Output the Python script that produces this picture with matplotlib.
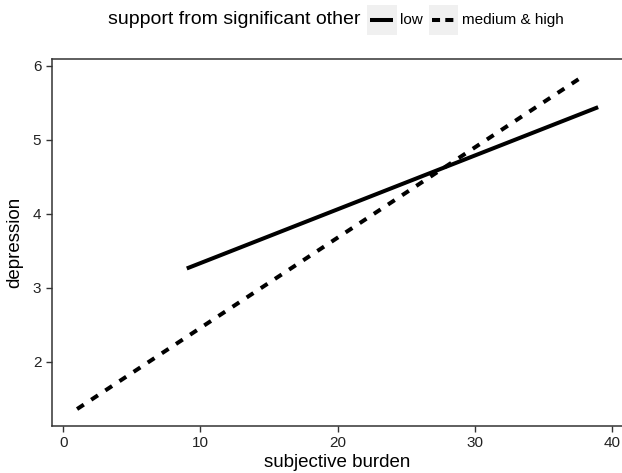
import numpy as np
import matplotlib
matplotlib.use('Agg')
import matplotlib.pyplot as plt
from matplotlib.patches import Rectangle
from matplotlib.lines import Line2D

plt.rcParams['font.family'] = ['Liberation Sans', 'DejaVu Sans']

# 数据：两条拟合直线的端点
burden_low = [9, 39]
depr_low = [3.26, 5.44]
burden_high = [1, 38]
depr_high = [1.36, 5.87]

x_ticks = [0, 10, 20, 30, 40]
y_ticks = [2, 3, 4, 5, 6]

W, H = 622, 473
fig = plt.figure(figsize=(W / 100, H / 100), dpi=100)

# 坐标轴位置（按像素换算）
left, right, top, bottom = 51.7, 623.5, 58.7, 425.7
ax = fig.add_axes([left / W, 1 - bottom / H, (right - left) / W, (bottom - top) / H])

lw = 2.9
ax.plot(burden_low, depr_low, color='black', lw=lw, solid_capstyle='butt')
ax.plot(burden_high, depr_high, color='black', lw=lw, dashes=(2, 2.2), dash_capstyle='butt')

ax.set_xlim(-0.85, 40.85)
ax.set_ylim(1.135, 6.095)
ax.set_xticks(x_ticks)
ax.set_yticks(y_ticks)
ax.tick_params(direction='out', length=4.5, width=1, color='#333333',
               labelsize=11, labelcolor='#222222', pad=3)
for s in ax.spines.values():
    s.set_color('#333333')
    s.set_linewidth(1.1)

ax.set_xlabel('subjective burden', fontsize=13.5, labelpad=3)
ax.set_ylabel('depression', fontsize=13.5, labelpad=7)


# 图例（顶部，横向）
def fx(px):
    return px / W


def fy(py):
    return 1 - py / H


yc = 20
fig.text(fx(360), fy(yc), 'support from significant other', fontsize=14,
         ha='right', va='center')
for x0, lab, dash in [(367, 'low', None), (428.7, 'medium & high', (2, 1.3))]:
    fig.add_artist(Rectangle((fx(x0), fy(35)), 29.5 / W, 29.7 / H,
                             transform=fig.transFigure, facecolor='#F0F0F0',
                             edgecolor='none'))
    ln = Line2D([fx(x0 + 3), fx(x0 + 26.5)], [fy(yc), fy(yc)], color='black',
                lw=lw, transform=fig.transFigure, solid_capstyle='butt',
                dash_capstyle='butt')
    if dash:
        ln.set_dashes(dash)
    fig.add_artist(ln)
    fig.text(fx(x0 + 33), fy(yc), lab, fontsize=11, ha='left', va='center')

fig.savefig('out.png', dpi=100)
